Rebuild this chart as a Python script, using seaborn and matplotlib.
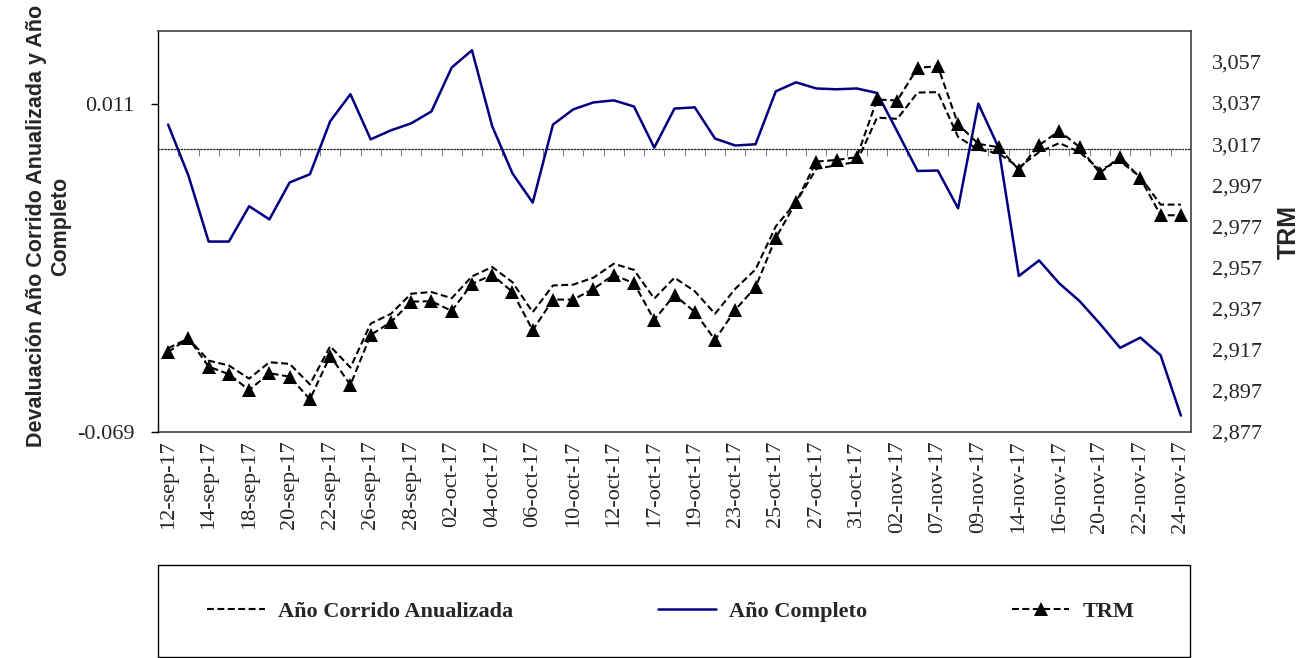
import numpy as np
import pandas as pd
import matplotlib
matplotlib.use("Agg")
import matplotlib.pyplot as plt
from matplotlib.patches import Rectangle
from matplotlib.ticker import FuncFormatter
import seaborn as sns

# Business days (Colombia), 12-sep-17 .. 24-nov-17
fechas = ['12-sep-17', '13-sep-17', '14-sep-17', '15-sep-17', '18-sep-17', '19-sep-17',
          '20-sep-17', '21-sep-17', '22-sep-17', '25-sep-17', '26-sep-17', '27-sep-17',
          '28-sep-17', '29-sep-17', '02-oct-17', '03-oct-17', '04-oct-17', '05-oct-17',
          '06-oct-17', '09-oct-17', '10-oct-17', '11-oct-17', '12-oct-17', '13-oct-17',
          '17-oct-17', '18-oct-17', '19-oct-17', '20-oct-17', '23-oct-17', '24-oct-17',
          '25-oct-17', '26-oct-17', '27-oct-17', '30-oct-17', '31-oct-17', '01-nov-17',
          '02-nov-17', '03-nov-17', '07-nov-17', '08-nov-17', '09-nov-17', '10-nov-17',
          '14-nov-17', '15-nov-17', '16-nov-17', '17-nov-17', '20-nov-17', '21-nov-17',
          '22-nov-17', '23-nov-17', '24-nov-17']

# Devaluación año corrido anualizada
ano_corrido = [-0.0486, -0.0462, -0.0516, -0.0528, -0.0560, -0.0520, -0.0524, -0.0574,
               -0.0481, -0.0533, -0.0426, -0.0402, -0.0353, -0.0349, -0.0364, -0.0311,
               -0.0288, -0.0325, -0.0398, -0.0333, -0.0331, -0.0314, -0.0280, -0.0295,
               -0.0365, -0.0314, -0.0347, -0.0402, -0.0341, -0.0294, -0.0189, -0.0130,
               -0.0049, -0.0040, -0.0032, 0.0076, 0.0073, 0.0137, 0.0138, 0.0029,
               -0.0002, -0.0011, -0.0045, -0.0008, 0.0014, -0.0008, -0.0051, -0.0030,
               -0.0069, -0.0136, -0.0136]

# Devaluación año completo
ano_completo = [0.0059, -0.0065, -0.0226, -0.0226, -0.0140, -0.0172, -0.0082, -0.0062,
                0.0067, 0.0133, 0.0023, 0.0045, 0.0062, 0.0091, 0.0198, 0.0240,
                0.0055, -0.0060, -0.0131, 0.0059, 0.0096, 0.0113, 0.0118, 0.0103,
                0.0003, 0.0098, 0.0101, 0.0025, 0.0008, 0.0011, 0.0140, 0.0162,
                0.0147, 0.0145, 0.0147, 0.0136, 0.0042, -0.0054, -0.0053, -0.0145,
                0.0110, 0.0003, -0.0310, -0.0272, -0.0328, -0.0371, -0.0426, -0.0485,
                -0.0460, -0.0503, -0.0650]

# Tasa representativa del mercado
trm = [2915.9, 2922.6, 2908.8, 2905.1, 2897.4, 2905.6, 2903.9, 2892.9, 2914.0, 2899.9,
       2924.2, 2930.4, 2940.4, 2940.6, 2935.9, 2949.0, 2953.4, 2945.1, 2926.5, 2941.4,
       2941.4, 2946.6, 2953.4, 2949.3, 2931.5, 2943.6, 2935.4, 2921.8, 2936.4, 2947.4,
       2971.4, 2988.7, 3008.5, 3009.3, 3010.6, 3038.7, 3038.2, 3054.1, 3054.9, 3026.7,
       3017.1, 3015.5, 3004.5, 3016.5, 3023.4, 3015.5, 3002.9, 3010.9, 3000.4, 2982.4,
       2982.4]

left_ticks = [-0.069, 0.011]
right_ticks = [2877, 2897, 2917, 2937, 2957, 2977, 2997, 3017, 3037, 3057]

df = pd.DataFrame({
    "pos": np.arange(len(fechas)),
    "fecha": fechas,
    "corrido": ano_corrido,
    "completo": ano_completo,
    "trm": trm,
})

sns.set_style("white")
plt.rcParams["font.family"] = ["Liberation Serif", "DejaVu Serif"]

W, H = 1304, 658
fig = plt.figure(figsize=(W / 100, H / 100), dpi=100)
L, R, T, B = 158, 1191, 31, 432
ax = fig.add_axes([L / W, 1 - B / H, (R - L) / W, (B - T) / H])

dash = (0, (3.3, 1.7))
sns.lineplot(data=df, x="pos", y="corrido", ax=ax, color="black", lw=1.5,
             linestyle=dash, label="Año Corrido Anualizada", zorder=3)
sns.lineplot(data=df, x="pos", y="completo", ax=ax, color="#000080", lw=1.8,
             label="Año Completo", zorder=3)

ax2 = ax.twinx()
sns.lineplot(data=df, x="pos", y="trm", ax=ax2, color="black", lw=1.5,
             linestyle=dash, marker="^", markersize=9.5, markeredgewidth=0,
             label="TRM", zorder=3)

handles, labels = [], []
for a in (ax, ax2):
    h, l = a.get_legend_handles_labels()
    handles += h
    labels += l
    if a.get_legend() is not None:
        a.get_legend().remove()

n = len(fechas)
ax.set_xlim(-0.5, n - 0.5)
ax.set_ylim(-0.069, 0.0287)
ax2.set_ylim(2877, 3072)

# Left axis
ax.set_yticks(left_ticks)
ax.yaxis.set_major_formatter(FuncFormatter(lambda v, p: f"{v:.3f}"))
ax.tick_params(axis="y", direction="out", length=5, width=1, color="black",
               pad=12, labelsize=16, left=True)
ax.set_ylabel("")
ax.set_xlabel("")

# Category axis crossing at zero: dotted line with boundary ticks
ax.spines["bottom"].set_position(("data", 0))
ax.spines["bottom"].set_linestyle((0, (1, 1.6)))
ax.spines["bottom"].set_linewidth(0.9)
ax.spines["bottom"].set_color("#222222")
ax.set_xticks(np.arange(0.5, n - 1, 1))
ax.tick_params(axis="x", direction="out", length=5, width=0.6, color="#666666",
               labelbottom=False, bottom=True)
for s in ("top", "right"):
    ax.spines[s].set_color("#404040")
    ax.spines[s].set_linewidth(1.2)
ax.spines["left"].set_color("black")
ax.spines["left"].set_linewidth(1.0)

# Date labels along the bottom of the plot area
sec = ax.secondary_xaxis("bottom")
sec.set_xticks(df["pos"].values[::2], labels=df["fecha"].values[::2])
sec.tick_params(axis="x", length=0, pad=6, labelrotation=90, labelsize=16)
sec.spines["bottom"].set_color("#404040")
sec.spines["bottom"].set_linewidth(1.2)

# Right axis
ax2.set_yticks(right_ticks)
ax2.yaxis.set_major_formatter(FuncFormatter(lambda v, p: f"{int(round(v)):,}"))
ax2.tick_params(axis="y", length=0, pad=15, labelsize=16)
ax2.set_ylabel("")
for s in ax2.spines.values():
    s.set_visible(False)

sans_bold = dict(family=["Liberation Sans", "DejaVu Sans"], weight="bold")
fig.text(49 / W, 1 - 226 / H, "Devaluación Año Corrido Anualizada y Año\nCompleto",
         rotation=90, ha="center", va="center", multialignment="center",
         fontsize=15.5, linespacing=1.2, **sans_bold)
fig.text(1289 / W, 1 - 232 / H, "TRM", rotation=90, ha="center", va="center",
         fontsize=18, **sans_bold)

# Legend box below the chart
fig.add_artist(Rectangle((158 / W, 1 - 657 / H), 1032 / W, 92 / H,
                         transform=fig.transFigure, fill=False,
                         edgecolor="black", lw=1))
fig.legend(handles, labels, loc="center", bbox_to_anchor=(671 / W, 1 - 612 / H),
           ncol=3, frameon=False, handlelength=2.6, handletextpad=0.6,
           columnspacing=6.5, numpoints=1,
           prop={"family": "Liberation Serif", "weight": "bold", "size": 16})

fig.savefig("out.png", dpi=100)
